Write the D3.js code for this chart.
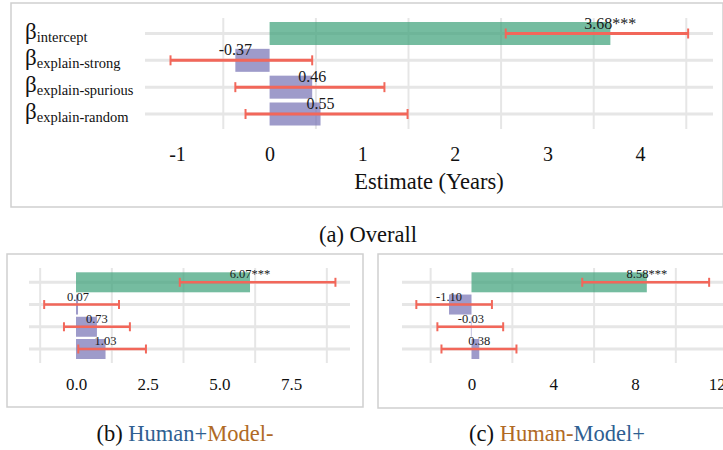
<!DOCTYPE html>
<html><head><meta charset="utf-8">
<script src="https://cdn.jsdelivr.net/npm/d3@7"></script>
<style>body{margin:0;background:#fff}svg text{font-family:"Liberation Serif",Tinos,"DejaVu Serif","Noto Serif",serif}</style>
</head><body><svg id="c" width="723" height="450"></svg>
<script>
const terms = ["intercept","explain-strong","explain-spurious","explain-random"];
const sig = ["***","","",""];

const overallEst = [3.68, -0.37, 0.46, 0.55];
const overallLo  = [2.55, -1.07, -0.37, -0.26];
const overallHi  = [4.52, 0.46, 1.24, 1.49];
const overallTicks = [-1, 0, 1, 2, 3, 4];
const overallGrid = [-0.5, 0.5, 1.5, 2.5, 3.5, 4.5];

const hmEst = [6.07, 0.07, 0.73, 1.03];
const hmLo  = [3.62, -1.11, -0.42, 0.08];
const hmHi  = [9.05, 1.50, 1.88, 2.44];
const hmTicks = [0, 2.5, 5, 7.5];
const hmGrid = [-1.25, 1.25, 3.75, 6.25, 8.75];

const mhEst = [8.58, -1.10, -0.03, 0.38];
const mhLo  = [5.42, -2.70, -1.67, -1.47];
const mhHi  = [11.63, 1.00, 1.55, 2.20];
const mhTicks = [0, 4, 8, 12];
const mhGrid = [-2, 2, 6, 10];

const svg = d3.select("#c");
const FONT = "Liberation Serif, Tinos, DejaVu Serif, serif";
const GREEN = "#3a9f77", PURPLE = "#7570b3", RED = "#f2675a";
const hy = s => s.replace("\u2212","-");

function panel(o){
  const g = svg.append("g");
  g.append("rect").attr("x",o.box[0]).attr("y",o.box[1]).attr("width",o.box[2]).attr("height",o.box[3])
    .attr("fill","none").attr("stroke","#cfcfcf").attr("stroke-width",1.5);
  const x = d3.scaleLinear().domain(o.domain).range(o.range);
  const y = d3.scalePoint().domain(terms).range(o.yRange);
  const rows = terms.map((t,i)=>({t, est:o.est[i], lo:o.lo[i], hi:o.hi[i], s:sig[i]}));
  g.selectAll(".vg").data(o.grid).join("line")
    .attr("x1",d=>x(d)).attr("x2",d=>x(d)).attr("y1",o.vg[0]).attr("y2",o.vg[1])
    .attr("stroke","#e6e6e6").attr("stroke-width",2);
  g.selectAll(".hg").data(terms).join("line")
    .attr("x1",o.hg[0]).attr("x2",o.hg[1]).attr("y1",d=>y(d)).attr("y2",d=>y(d))
    .attr("stroke","#e6e6e6").attr("stroke-width",3);
  g.selectAll(".bar").data(rows).join("rect")
    .attr("x",d=>Math.min(x(0),x(d.est))).attr("width",d=>Math.abs(x(d.est)-x(0)))
    .attr("y",d=>y(d.t)-o.bh/2).attr("height",o.bh)
    .attr("fill",(d,i)=>i===0?GREEN:PURPLE).attr("fill-opacity",0.7);
  const eb = g.selectAll(".eb").data(rows).join("g");
  eb.append("line").attr("x1",d=>x(d.lo)).attr("x2",d=>x(d.hi)).attr("y1",d=>y(d.t)).attr("y2",d=>y(d.t))
    .attr("stroke",RED).attr("stroke-width",o.ew);
  eb.append("line").attr("x1",d=>x(d.lo)).attr("x2",d=>x(d.lo)).attr("y1",d=>y(d.t)-o.cap).attr("y2",d=>y(d.t)+o.cap)
    .attr("stroke",RED).attr("stroke-width",2);
  eb.append("line").attr("x1",d=>x(d.hi)).attr("x2",d=>x(d.hi)).attr("y1",d=>y(d.t)-o.cap).attr("y2",d=>y(d.t)+o.cap)
    .attr("stroke",RED).attr("stroke-width",2);
  g.selectAll(".vl").data(rows).join("text")
    .attr("x",d=>x(d.est)).attr("y",d=>y(d.t)-o.lblOff)
    .attr("text-anchor","middle").attr("font-size",o.lblSize).attr("font-family",FONT).attr("fill","#1a1a1a")
    .text(d=>d.est.toFixed(2)+d.s);
  const ax = g.append("g").attr("transform",`translate(0,${o.tickY})`)
    .call(d3.axisBottom(x).tickValues(o.ticks).tickSize(0).tickPadding(0).tickFormat(d=>hy(o.fmt(d))));
  ax.select(".domain").remove();
  ax.selectAll("text").attr("font-size",o.tickSize).attr("font-family",FONT).attr("fill","#111").attr("dy",0);
  return {x,y,g};
}

const a = panel({box:[11,3,712,204], domain:[-1,4], range:[177,640], yRange:[33.5,114],
  grid:overallGrid, vg:[18,129], hg:[145,713], bh:23, ew:3, cap:5,
  est:overallEst, lo:overallLo, hi:overallHi, lblOff:5, lblSize:16,
  ticks:overallTicks, tickY:161, tickSize:20, fmt:d3.format("d")});
a.g.append("text").attr("x",429).attr("y",189).attr("text-anchor","middle").attr("font-size",22.5).attr("font-family",FONT).attr("fill","#111")
  .text("Estimate (Years)");
a.g.selectAll(".yl").data(terms).join("text")
  .attr("x",25).attr("y",d=>a.y(d)+5).attr("fill","#111").attr("font-family",FONT)
  .each(function(d){
    const t=d3.select(this);
    t.append("tspan").attr("font-size",23).text("β");
    t.append("tspan").attr("font-size",14.5).attr("dy",3).text(d);
  });

panel({box:[7,254,356,153], domain:[0,7.5], range:[76,291], yRange:[282.3,349],
  grid:hmGrid, vg:[268,363], hg:[29,350], bh:20, ew:2.5, cap:4.5,
  est:hmEst, lo:hmLo, hi:hmHi, lblOff:4, lblSize:12.5,
  ticks:hmTicks, tickY:390, tickSize:17, fmt:d3.format(".1f")});

panel({box:[378,254,350,154], domain:[0,12], range:[471.5,716.7], yRange:[282.3,349],
  grid:mhGrid, vg:[268,363], hg:[402,730], bh:20, ew:2.5, cap:4.5,
  est:mhEst, lo:mhLo, hi:mhHi, lblOff:4, lblSize:12.5,
  ticks:mhTicks, tickY:390, tickSize:17, fmt:d3.format("d")});

const BLUE="#2f5f92", ORANGE="#b06a26";
svg.append("text").attr("x",368).attr("y",242).attr("text-anchor","middle").attr("font-size",22.5).attr("font-family",FONT).attr("fill","#111").text("(a) Overall");
const cb = svg.append("text").attr("x",185).attr("y",441).attr("text-anchor","middle").attr("font-size",22.5).attr("font-family",FONT).attr("fill","#111");
cb.append("tspan").text("(b) ");
cb.append("tspan").attr("fill",BLUE).text("Human+");
cb.append("tspan").attr("fill",ORANGE).text("Model-");
const cc = svg.append("text").attr("x",557).attr("y",441).attr("text-anchor","middle").attr("font-size",22.5).attr("font-family",FONT).attr("fill","#111");
cc.append("tspan").text("(c) ");
cc.append("tspan").attr("fill",ORANGE).text("Human-");
cc.append("tspan").attr("fill",BLUE).text("Model+");
</script></body></html>
